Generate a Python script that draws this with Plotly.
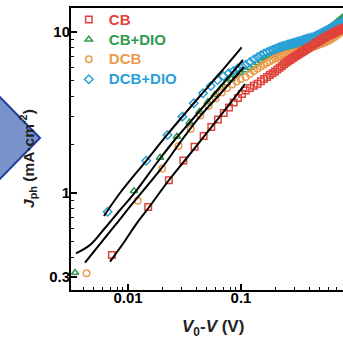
import plotly.graph_objects as go

# Photocurrent density J_ph versus effective voltage V0-V for four processing conditions.
# Low-voltage points are listed per series; the dense high-voltage part shares one voltage grid.
band_v = [0.11, 0.12, 0.13, 0.14, 0.15, 0.16, 0.17, 0.18, 0.19, 0.20,
          0.21, 0.22, 0.23, 0.24, 0.25, 0.26, 0.27, 0.28, 0.29, 0.30,
          0.31, 0.32, 0.33, 0.34, 0.35, 0.36, 0.37, 0.38, 0.39, 0.40,
          0.42, 0.44, 0.46, 0.48, 0.50, 0.52, 0.54, 0.56, 0.58, 0.60,
          0.62, 0.64, 0.66, 0.68, 0.70, 0.72, 0.74, 0.76, 0.78, 0.80, 0.82]

cb_v = [0.0072, 0.0151, 0.023, 0.0309, 0.0388, 0.0467, 0.0546, 0.0625, 0.0704, 0.0783, 0.0862, 0.0941, 0.102]
cb_j = [0.412, 0.819, 1.20, 1.59, 1.94, 2.26, 2.57, 2.86, 3.14, 3.40, 3.65, 3.89, 4.12,
        4.33, 4.49, 4.63, 4.77, 4.94, 5.11, 5.25, 5.40, 5.54, 5.69,
        5.85, 6.00, 6.15, 6.30, 6.45, 6.59, 6.71, 6.82, 6.93, 7.04,
        7.15, 7.25, 7.35, 7.45, 7.55, 7.64, 7.74, 7.83, 7.93, 8.02,
        8.19, 8.36, 8.53, 8.69, 8.84, 8.99, 9.15, 9.29, 9.42, 9.54,
        9.65, 9.76, 9.87, 9.98, 10.09, 10.19, 10.29, 10.38, 10.47, 10.56, 10.65]

cbdio_v = [0.0034, 0.0113, 0.0192, 0.0271, 0.035, 0.0429, 0.0508, 0.0587, 0.0666, 0.0745, 0.0824, 0.0903, 0.0982]
cbdio_j = [0.320, 1.03, 1.66, 2.24, 2.75, 3.20, 3.67, 4.09, 4.49, 4.82, 5.11, 5.37, 5.60,
           5.80, 6.00, 6.21, 6.44, 6.65, 6.85, 6.99, 7.12, 7.24, 7.36,
           7.49, 7.61, 7.70, 7.79, 7.87, 7.94, 8.01, 8.08, 8.15, 8.22,
           8.28, 8.35, 8.43, 8.50, 8.56, 8.63, 8.71, 8.78, 8.85, 8.91,
           9.03, 9.16, 9.32, 9.49, 9.65, 9.81, 9.98, 10.14, 10.29, 10.49,
           10.69, 10.88, 11.07, 11.25, 11.44, 11.63, 11.82, 12.00, 12.17, 12.35, 12.52]

dcb_v = [0.0043, 0.0122, 0.0201, 0.028, 0.0359, 0.0438, 0.0517, 0.0596, 0.0675, 0.0754, 0.0833, 0.0912, 0.0991]
dcb_j = [0.317, 0.896, 1.42, 1.96, 2.50, 3.03, 3.47, 3.86, 4.21, 4.49, 4.72, 4.93, 5.11,
         5.25, 5.48, 5.72, 5.91, 6.11, 6.29, 6.45, 6.59, 6.72, 6.84,
         6.94, 7.03, 7.11, 7.18, 7.24, 7.29, 7.34, 7.38, 7.43, 7.47,
         7.51, 7.55, 7.60, 7.64, 7.69, 7.74, 7.79, 7.84, 7.89, 7.93,
         8.02, 8.10, 8.19, 8.29, 8.39, 8.49, 8.58, 8.68, 8.77, 8.86,
         8.98, 9.11, 9.25, 9.39, 9.53, 9.67, 9.80, 9.92, 10.04, 10.18, 10.32]

dcbdio_v = [0.0066, 0.0145, 0.0224, 0.0303, 0.0382, 0.0461, 0.054, 0.0619, 0.0698, 0.0777, 0.0856, 0.0935, 0.1014]
dcbdio_j = [0.765, 1.587, 2.29, 2.98, 3.61, 4.16, 4.62, 5.03, 5.33, 5.53, 5.72, 5.93, 6.12,
            6.24, 6.51, 6.75, 6.96, 7.17, 7.36, 7.48, 7.61, 7.73, 7.84,
            7.95, 8.06, 8.14, 8.21, 8.28, 8.35, 8.41, 8.47, 8.53, 8.59,
            8.65, 8.71, 8.77, 8.83, 8.89, 8.95, 9.00, 9.05, 9.10, 9.15,
            9.25, 9.35, 9.47, 9.62, 9.76, 9.90, 10.03, 10.16, 10.29, 10.42,
            10.54, 10.66, 10.79, 10.91, 11.02, 11.13, 11.24, 11.34, 11.44, 11.54, 11.63]

# Power-law fits in the low-voltage regime
fit_cb_v = [0.00693, 0.00909, 0.01194, 0.01512, 0.02273, 0.0313, 0.04706, 0.07218, 0.1085]
fit_cb_j = [0.3745, 0.487, 0.648, 0.804, 1.187, 1.569, 2.244, 3.278, 4.75]
fit_cbdio_v = [0.003465, 0.004611, 0.006257, 0.0085, 0.01107, 0.01908, 0.02698, 0.03487, 0.05886, 0.1041]
fit_cbdio_j = [0.422, 0.475, 0.606, 0.784, 0.972, 1.626, 2.211, 2.722, 4.18, 6.70]
fit_dcb_v = [0.004164, 0.006046, 0.007943, 0.01041, 0.02053, 0.02787, 0.04189, 0.06653, 0.1063]
fit_dcb_j = [0.369, 0.511, 0.648, 0.822, 1.472, 1.987, 2.911, 4.18, 6.06]
fit_dcbdio_v = [0.00613, 0.0085, 0.01443, 0.02214, 0.03005, 0.04337, 0.0652, 0.1014]
fit_dcbdio_j = [0.720, 1.000, 1.580, 2.293, 2.965, 4.004, 5.564, 8.035]

x_major = [0.01, 0.1]
x_major_text = ["0.01", "0.1"]
x_minor = [0.004, 0.005, 0.006, 0.007, 0.008, 0.009, 0.02, 0.03, 0.04, 0.05, 0.06, 0.07, 0.08, 0.09,
           0.2, 0.3, 0.4, 0.5, 0.6, 0.7, 0.8]
y_major = [0.3, 1, 10]
y_major_text = ["0.3", "1", "10"]
y_minor = [0.4, 0.5, 0.6, 0.7, 0.8, 0.9, 2, 3, 4, 5, 6, 7, 8, 9]

RED = "#e0433b"
GREEN = "#2e9b4f"
ORANGE = "#eb9c4c"
BLUE = "#2ba0d8"
FONT = "Liberation Sans"

fig = go.Figure()

series = [
    ("CB+DIO", cbdio_v + band_v, cbdio_j, GREEN, "triangle-up-open", 2),
    ("DCB", dcb_v + band_v, dcb_j, ORANGE, "circle-open", 3),
    ("DCB+DIO", dcbdio_v + band_v, dcbdio_j, BLUE, "diamond-open", 4),
    ("CB", cb_v + band_v, cb_j, RED, "square-open", 1),
]
for name, xv, yv, col, sym, rank in series:
    fig.add_trace(go.Scatter(
        x=xv, y=yv, mode="markers", legendrank=rank,
        name=f"<span style='color:{col};font-size:15px'>{name}</span>",
        marker=dict(symbol=sym, size=6.5, color=col, line=dict(width=1.5, color=col)),
    ))

for fv, fj in [(fit_cb_v, fit_cb_j), (fit_cbdio_v, fit_cbdio_j),
               (fit_dcb_v, fit_dcb_j), (fit_dcbdio_v, fit_dcbdio_j)]:
    fig.add_trace(go.Scatter(x=fv, y=fj, mode="lines", showlegend=False,
                             line=dict(color="black", width=2, shape="spline")))

tickfont = dict(family=FONT, size=15, color="black", weight="bold")
fig.update_xaxes(
    type="log", range=[-2.5044, -0.0973], showgrid=False, zeroline=False,
    showline=True, linewidth=2, linecolor="black", mirror=True,
    ticks="inside", ticklen=6, tickwidth=1.5, tickcolor="black",
    tickvals=x_major, ticktext=x_major_text, tickfont=tickfont, ticklabelstandoff=-7,
    minor=dict(ticks="inside", ticklen=3, tickwidth=1.2, tickcolor="black", tickvals=x_minor),
)
fig.update_yaxes(
    type="log", range=[-0.6025, 1.149], showgrid=False, zeroline=False,
    showline=True, linewidth=2, linecolor="black", mirror=False,
    ticks="inside", ticklen=6, tickwidth=1.5, tickcolor="black",
    tickvals=y_major, ticktext=y_major_text, tickfont=tickfont, ticklabelstandoff=-4,
    minor=dict(ticks="inside", ticklen=3, tickwidth=1.2, tickcolor="black", tickvals=y_minor),
)

# Arrow-head decoration from the neighbouring panel
fig.add_shape(type="path", xref="paper", yref="paper",
              path="M -0.114 0.539 L -0.261 0.684 L -0.408 0.539 L -0.261 0.394 Z",
              fillcolor="#7a92cc", line=dict(color="#1c3d9c", width=2), layer="below")

fig.add_annotation(text="<i>J</i><sub>ph</sub> (mA·cm<sup>-2</sup>)", textangle=-90,
                   xref="paper", yref="paper", x=-0.158, y=0.465,
                   xanchor="center", yanchor="middle", showarrow=False,
                   font=dict(family=FONT, size=15.5, color="#222", weight="bold"))
fig.add_annotation(text="<i>V</i><sub>0</sub>-<i>V</i> (V)",
                   xref="paper", yref="paper", x=0.522, y=-0.135,
                   xanchor="center", yanchor="middle", showarrow=False,
                   font=dict(family=FONT, size=17, color="#222", weight="bold"))

fig.update_layout(
    width=343, height=345, autosize=False,
    margin=dict(l=71, r=0, t=8, b=55),
    paper_bgcolor="white", plot_bgcolor="white",
    legend=dict(x=-0.008, y=1.012, xanchor="left", yanchor="top", bgcolor="rgba(0,0,0,0)",
                font=dict(family=FONT, size=13, weight="bold"), itemwidth=30,
                tracegroupgap=0),
)

fig.write_html("out.html")
